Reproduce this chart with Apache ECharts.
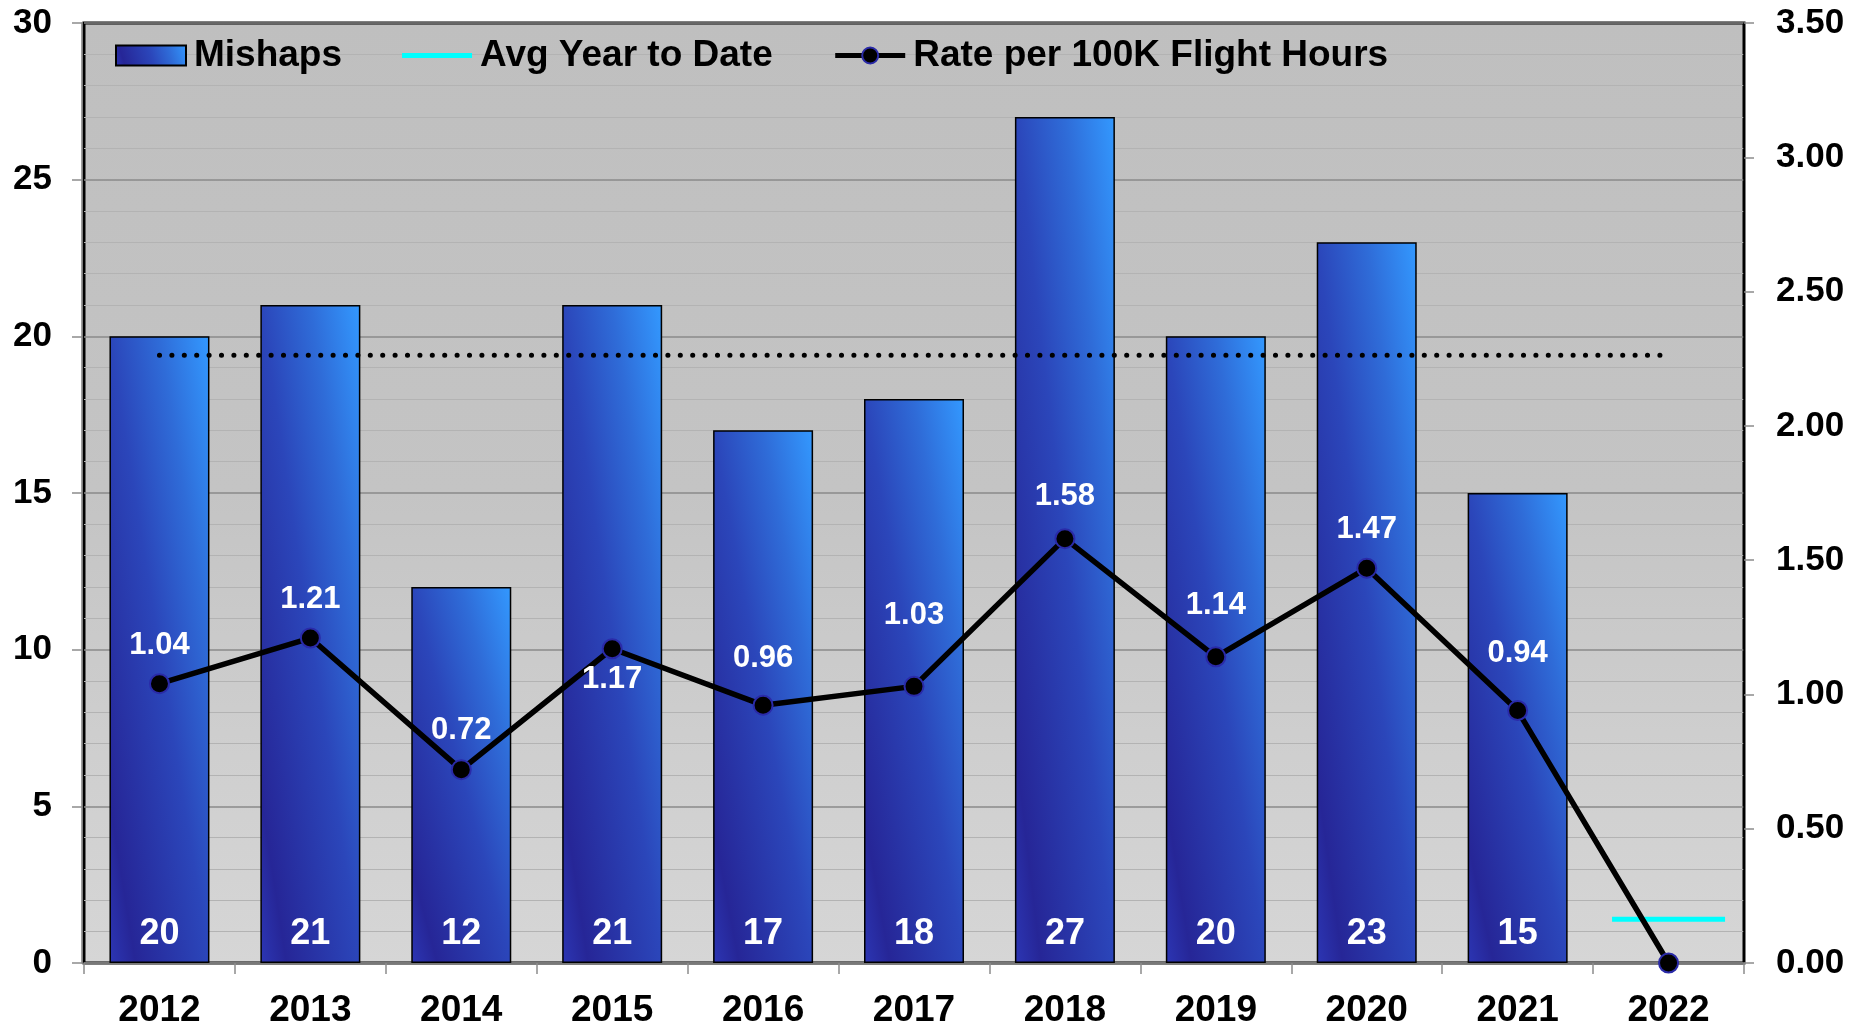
<!DOCTYPE html>
<html>
<head>
<meta charset="utf-8">
<script src="https://cdn.jsdelivr.net/npm/echarts@6/dist/echarts.min.js"></script>
<style>
  html, body { margin: 0; padding: 0; background: #ffffff; }
  #main { width: 1854px; height: 1029px; }
</style>
</head>
<body>
<div id="main"></div>
<script>
// ---- data ----
const years = ['2012', '2013', '2014', '2015', '2016', '2017', '2018', '2019', '2020', '2021', '2022'];
const mishaps = [20, 21, 12, 21, 17, 18, 27, 20, 23, 15, null];
const rate = [1.04, 1.21, 0.72, 1.17, 0.96, 1.03, 1.58, 1.14, 1.47, 0.94, 0.00];
const tenYearAvg = [19.4, 19.4, 19.4, 19.4, 19.4, 19.4, 19.4, 19.4, 19.4, 19.4, 19.4];
const avgYearToDate = [null, null, null, null, null, null, null, null, null, null, 1.4];
const mishapTicks = [0, 5, 10, 15, 20, 25, 30];
const rateTicks = [0, 0.5, 1, 1.5, 2, 2.5, 3, 3.5];

// vertical placement of each rate label relative to its point (px); null = no label
const rateLabelShift = [-38, -39, -39, 31, -47, -71, -42, -51, -39, -57, null];

// ---- styles ----
const FONT = '"Liberation Sans", Arial, sans-serif';
const BAR_W = 100;
const barStops = [
  { offset: 0, color: '#2c36b4' },
  { offset: 0.13, color: '#262697' },
  { offset: 0.5, color: '#2b46ba' },
  { offset: 0.75, color: '#2f6cd8' },
  { offset: 1, color: '#3399ff' }
];

const chart = echarts.init(document.getElementById('main'), null, { renderer: 'canvas' });

const option = {
  backgroundColor: '#ffffff',
  animation: false,
  textStyle: { fontFamily: FONT },
  grid: {
    left: 84, right: 110, top: 23, bottom: 61,
    show: true,
    borderColor: '#000000',
    borderWidth: 3,
    backgroundColor: new echarts.graphic.LinearGradient(0, 0, 0, 1, [
      { offset: 0, color: '#bfbfbf' },
      { offset: 0.5, color: '#c4c4c4' },
      { offset: 0.78, color: '#cfcfcf' },
      { offset: 1, color: '#d6d6d6' }
    ])
  },
  legend: {
    left: 115,
    top: 37,
    padding: 0,
    itemWidth: 70,
    itemHeight: 20,
    itemGap: 60,
    selectedMode: false,
    textStyle: {
      fontFamily: FONT, fontSize: 37, fontWeight: 'bold', color: '#000000',
      padding: [0, 0, 0, 3]
    },
    data: [
      { name: 'Mishaps', icon: 'rect' },
      { name: 'Avg Year to Date', icon: 'path://M0,0H70V5H0Z' },
      { name: 'Rate per 100K Flight Hours', lineStyle: { width: 5, color: '#000000' } }
    ]
  },
  xAxis: {
    type: 'category',
    data: years,
    boundaryGap: true,
    offset: 2,
    axisLine: { show: true, lineStyle: { color: '#7f7f7f', width: 1.5 } },
    axisTick: { show: true, alignWithLabel: false, length: 11, lineStyle: { color: '#8c8c8c', width: 1.5 } },
    axisLabel: { fontFamily: FONT, fontSize: 37, fontWeight: 'bold', color: '#000000', margin: 27 },
    splitLine: { show: false }
  },
  yAxis: [
    {
      type: 'value',
      min: mishapTicks[0],
      max: mishapTicks[mishapTicks.length - 1],
      interval: mishapTicks[1] - mishapTicks[0],
      offset: 2,
      axisLine: { show: true, lineStyle: { color: '#7f7f7f', width: 1.5 } },
      axisTick: { show: true, inside: false, length: 10, lineStyle: { color: '#8c8c8c', width: 1.5 } },
      axisLabel: { fontFamily: FONT, fontSize: 35, fontWeight: 'bold', color: '#000000', margin: 30 },
      splitLine: { show: true, lineStyle: { color: '#8a8a8a', width: 1.5 } },
      minorTick: { show: false, splitNumber: 5 },
      minorSplitLine: { show: true, lineStyle: { color: '#b3b3b3', width: 1.2 } }
    },
    {
      type: 'value',
      min: rateTicks[0],
      max: rateTicks[rateTicks.length - 1],
      interval: rateTicks[1] - rateTicks[0],
      position: 'right',
      axisLine: { show: true, lineStyle: { color: '#000000', width: 1.5 } },
      axisTick: { show: true, inside: false, length: 10, lineStyle: { color: '#8c8c8c', width: 1.5 } },
      axisLabel: {
        fontFamily: FONT, fontSize: 35, fontWeight: 'bold', color: '#000000', margin: 32,
        formatter: v => v.toFixed(2)
      },
      splitLine: { show: false }
    }
  ],
  series: [
    {
      id: 'mishaps',
      name: 'Mishaps',
      type: 'bar',
      yAxisIndex: 0,
      barWidth: BAR_W,
      data: mishaps,
      silent: true,
      itemStyle: {
        color: new echarts.graphic.LinearGradient(0, 1, 1, 0, barStops),
        borderColor: '#000000',
        borderWidth: 1.5
      },
      label: {
        show: true,
        position: 'insideBottom',
        distance: 11,
        fontFamily: FONT,
        fontSize: 36,
        fontWeight: 'bold',
        color: '#ffffff'
      },
      z: 2
    },
    {
      name: 'Ten-Year Average',
      type: 'line',
      yAxisIndex: 0,
      data: tenYearAvg,
      silent: true,
      symbol: 'none',
      lineStyle: { color: '#000000', width: 5, type: [0.1, 12.3], cap: 'round' },
      z: 3
    },
    {
      name: 'Avg Year to Date',
      type: 'line',
      yAxisIndex: 0,
      data: avgYearToDate,
      silent: true,
      symbol: 'rect',
      symbolSize: [113, 5],
      showSymbol: true,
      itemStyle: { color: '#00ffff' },
      lineStyle: { color: '#00ffff', width: 5 },
      z: 4
    },
    {
      name: 'Rate per 100K Flight Hours',
      type: 'line',
      yAxisIndex: 1,
      silent: true,
      data: rate.map((v, i) => ({
        value: v,
        label: rateLabelShift[i] === null
          ? { show: false }
          : { show: true, offset: [0, rateLabelShift[i]] }
      })),
      symbol: 'circle',
      symbolSize: 19,
      itemStyle: { color: '#000000', borderColor: '#2a2aa8', borderWidth: 2 },
      lineStyle: { color: '#000000', width: 5.5 },
      label: {
        show: true,
        position: 'inside',
        fontFamily: FONT,
        fontSize: 31,
        fontWeight: 'bold',
        color: '#ffffff',
        formatter: p => p.value.toFixed(2)
      },
      z: 5
    }
  ]
};

chart.setOption(option);

// Shade every bar along its own diagonal: the gradient runs from the
// bottom-left to the top-right corner with the isolines following the
// box diagonal, whatever the bar's height.
const base = chart.convertToPixel({ yAxisIndex: 0 }, 0);
const shadedBars = mishaps.map(v => {
  if (v === null) return null;
  const h = Math.abs(base - chart.convertToPixel({ yAxisIndex: 0 }, v));
  const w = BAR_W;
  const n2 = h * h + w * w;
  return {
    value: v,
    itemStyle: {
      color: new echarts.graphic.LinearGradient(0, 1, 2 * h * h / n2, 1 - 2 * w * w / n2, barStops)
    }
  };
});
chart.setOption({ series: [{ id: 'mishaps', data: shadedBars }] });
</script>
</body>
</html>
